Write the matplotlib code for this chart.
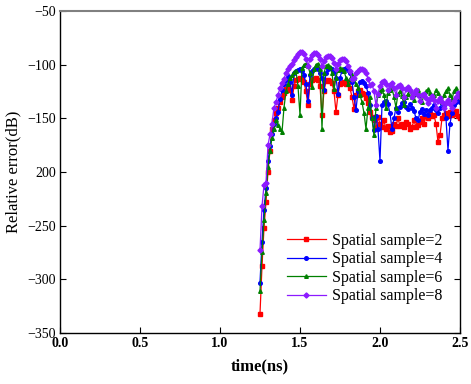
import numpy as np
import matplotlib
matplotlib.use("Agg")
import matplotlib.pyplot as plt

# sample times (ns), regular step of 0.0125 ns
time_ns = np.linspace(1.25, 2.5, 101)

err_s2 = [-332, -288, -252, -228, -200, -180, -160, -152, -145, -140,
          -135, -130, -126, -123, -122, -124, -133, -120, -114, -113,
          -112, -113, -116, -125, -138, -118, -114, -113, -112, -114,
          -120, -147, -125, -115, -114, -115, -117, -125, -144, -128,
          -118, -117, -116, -118, -116, -122, -130, -141, -128, -125,
          -124, -126, -127, -131, -136, -144, -149, -152, -160, -149,
          -155, -158, -152, -160, -157, -163, -162, -155, -157, -150,
          -157, -155, -158, -153, -155, -160, -158, -152, -158, -156,
          -153, -150, -155, -148, -150, -146, -148, -147, -155, -172,
          -166, -150, -147, -145, -148, -144, -147, -146, -143, -148,
          -150]

err_s4 = [-303, -265, -235, -215, -190, -176, -165, -155, -150, -144,
          -132, -124, -118, -114, -111, -116, -128, -108, -106, -105,
          -104, -106, -110, -118, -134, -110, -106, -104, -103, -104,
          -108, -112, -124, -108, -104, -103, -104, -107, -112, -127,
          -112, -106, -104, -103, -105, -108, -116, -130, -142, -125,
          -116, -115, -117, -120, -126, -138, -150, -161, -148, -160,
          -190, -138, -135, -134, -137, -145, -160, -150, -140, -144,
          -139, -136, -135, -139, -141, -137, -140, -143, -150, -152,
          -144, -141, -146, -142, -147, -142, -140, -138, -142, -145,
          -140, -136, -138, -150, -180, -155, -145, -138, -135, -131,
          -135]

err_s6 = [-311, -275, -245, -220, -195, -180, -168, -160, -152, -156,
          -160, -163, -140, -125, -118, -112, -110, -107, -106, -120,
          -147, -103, -100, -99, -101, -108, -121, -104, -100, -99,
          -104, -160, -108, -101, -100, -102, -108, -123, -112, -105,
          -103, -104, -106, -112, -118, -113, -110, -112, -118, -122,
          -128, -135, -145, -160, -140, -130, -150, -166, -140, -128,
          -125, -123, -128, -140, -126, -124, -122, -130, -140, -127,
          -125, -129, -138, -130, -127, -124, -130, -133, -127, -124,
          -128, -135, -128, -125, -123, -126, -130, -128, -124, -126,
          -130, -135, -128, -125, -122, -128, -132, -125, -122, -128,
          -130]

err_s8 = [-273, -232, -212, -210, -175, -165, -155, -140, -135, -128,
          -122, -117, -113, -108, -104, -101, -99, -96, -93, -90,
          -88, -88, -90, -95, -101, -95, -91, -89, -89, -91,
          -95, -101, -97, -93, -92, -92, -94, -98, -104, -99,
          -96, -95, -95, -97, -101, -106, -113, -112, -108, -106,
          -104, -104, -105, -108, -113, -119, -118, -125, -138, -127,
          -120, -116, -115, -118, -124, -119, -117, -122, -128, -120,
          -119, -122, -130, -123, -121, -124, -130, -126, -124, -128,
          -134, -128, -127, -131, -136, -132, -129, -133, -140, -134,
          -131, -135, -140, -136, -133, -137, -140, -134, -130, -126,
          -130]

series = [
    ("Spatial sample=2", err_s2, "#ff0000", "s"),
    ("Spatial sample=4", err_s4, "#0000ff", "o"),
    ("Spatial sample=6", err_s6, "#008000", "^"),
    ("Spatial sample=8", err_s8, "#8c1aff", "D"),
]

x_ticks = [0.0, 0.5, 1.0, 1.5, 2.0, 2.5]
y_ticks = [-350, -300, -250, -200, -150, -100, -50]
y_tick_labels = ["\u2212350", "\u2212300", "\u2212250", "200", "\u2212150", "\u2212100", "\u221250"]

plt.rcParams["font.family"] = ["Liberation Serif", "DejaVu Serif"]

fig = plt.figure(figsize=(4.71, 3.84), dpi=100)
ax = fig.add_axes([0.1274, 0.1328, 0.8492, 0.8386])

for name, vals, col, mk in series:
    ax.plot(time_ns, vals, color=col, lw=0.9, marker=mk, ms=2.6,
            mec=col, mfc=col, label=name)

ax.set_xlim(0, 2.5)
ax.set_ylim(-350, -50)
ax.set_xticks(x_ticks)
ax.set_xticklabels([f"{v:.1f}" for v in x_ticks], fontweight="bold")
ax.set_yticks(y_ticks)
ax.set_yticklabels(y_tick_labels)
ax.tick_params(direction="in", length=4, width=0.8, labelsize=10,
               right=True, top=False, pad=3)

ax.spines["top"].set_color("#808080")
ax.spines["top"].set_linewidth(1.5)
for s in ["left", "right", "bottom"]:
    ax.spines[s].set_linewidth(1.0)

ax.set_xlabel("time(ns)", fontsize=12, fontweight="bold", labelpad=6)
ax.set_ylabel("Relative error(dB)", fontsize=12, labelpad=4)

ax.legend(loc="upper left", bbox_to_anchor=(0.54, 0.345), frameon=False,
          fontsize=11.5, handlelength=2.4, labelspacing=0.15,
          handletextpad=0.4, borderpad=0.2)

fig.savefig("out.png", dpi=100)
